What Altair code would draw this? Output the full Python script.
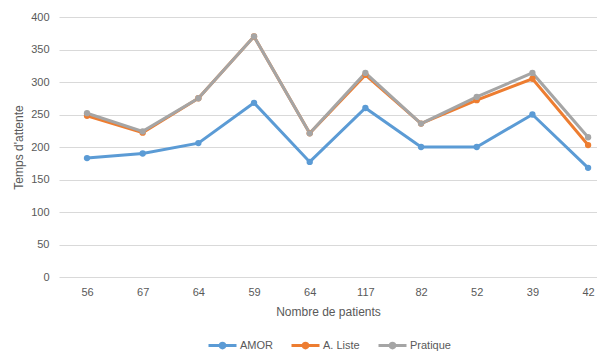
import altair as alt
import pandas as pd

categories = ["56", "67", "64", "59", "64", "117", "82", "52", "39", "42"]
series_names = ["AMOR", "A. Liste", "Pratique"]
amor = [183, 190, 206, 268, 177, 260, 200, 200, 250, 168]
a_liste = [248, 222, 275, 370, 221, 311, 236, 272, 305, 203]
pratique = [252, 224, 275, 370, 221, 314, 236, 277, 314, 215]
colors = ["#5B9BD5", "#ED7D31", "#A5A5A5"]

rows = []
for name, vals in zip(series_names, [amor, a_liste, pratique]):
    for i, v in enumerate(vals):
        rows.append({"serie": name, "idx": i, "cat": categories[i], "val": v})
df = pd.DataFrame(rows)

label_expr = "[" + ",".join("'" + c + "'" for c in categories) + "][datum.value]"
font = "Liberation Sans"
txt = "#595959"

legend_symbol = "M-1,0L1,0M-0.17,0A0.17,0.17,0,1,1,0.17,0A0.17,0.17,0,1,1,-0.17,0Z"

chart = alt.Chart(df).mark_line(
    strokeWidth=3,
    point=alt.OverlayMarkDef(filled=True, size=40),
).encode(
    x=alt.X("idx:Q",
            scale=alt.Scale(domain=[-0.503, 9.16], nice=False, zero=False),
            axis=alt.Axis(values=list(range(len(categories))), labelExpr=label_expr,
                          title="Nombre de patients", grid=False, ticks=False,
                          domain=False, labelPadding=9, titlePadding=9,
                          labelFontSize=11, titleFontSize=12)),
    y=alt.Y("val:Q",
            scale=alt.Scale(domain=[0, 400], nice=False),
            axis=alt.Axis(values=list(range(0, 401, 50)), title="Temps d'attente",
                          ticks=False, domain=False, labelPadding=10,
                          titlePadding=5, labelFontSize=11, titleFontSize=12)),
    color=alt.Color("serie:N",
                    scale=alt.Scale(domain=series_names, range=colors),
                    legend=alt.Legend(title=None, orient="none", direction="horizontal",
                                      legendX=148, legendY=313,
                                      symbolType=legend_symbol, symbolSize=784,
                                      symbolStrokeWidth=3, labelFontSize=11,
                                      labelOffset=2, columnPadding=12)),
).properties(
    width=538, height=260,
    autosize=alt.AutoSizeParams(type="none"),
    padding={"left": 51, "top": 9, "right": 0, "bottom": 75},
).configure_view(stroke=None).configure_axis(
    labelFont=font, titleFont=font, labelColor=txt, titleColor=txt,
    gridColor="#D9D9D9", titleFontWeight="normal",
).configure_legend(labelFont=font, labelColor=txt)

chart.save("out.html", embed_options={"renderer": "svg", "actions": False})
